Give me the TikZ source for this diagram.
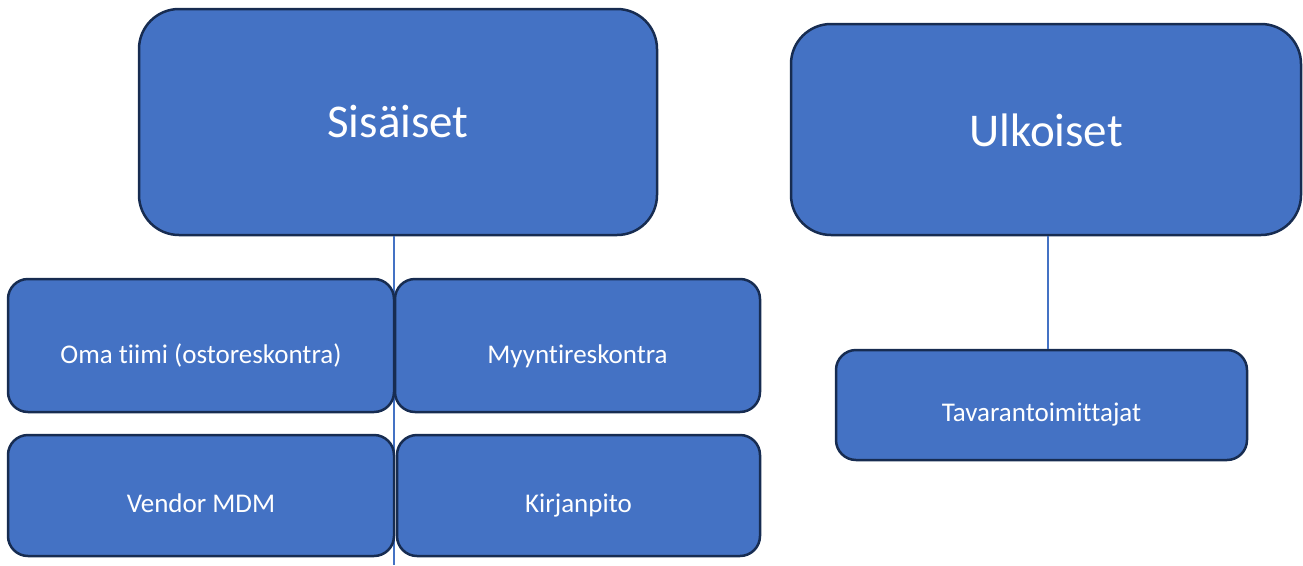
\documentclass[tikz,border=0pt]{standalone}
\usepackage{fontspec}
\setmainfont{Carlito}[Ligatures=NoCommon]
\usepackage{tikz}
\definecolor{boxblue}{HTML}{4472C4}
\definecolor{boxedge}{HTML}{172C51}
\tikzstyle{groupbox} = [draw=boxedge, fill=boxblue, line width=2.5pt,
    rectangle, rounded corners=40pt, inner sep=0pt, text=white,
    text height=31pt, text depth=0pt, font=\fontsize{47}{52}\selectfont]
\tikzstyle{memberbox} = [draw=boxedge, fill=boxblue, line width=2.5pt,
    rectangle, rounded corners=20pt, inner sep=0pt, text=white,
    text height=33pt, text depth=0pt, font=\fontsize{27}{30}\selectfont]
\tikzstyle{link} = [draw=boxblue, line width=2pt]

\begin{document}
\begin{tikzpicture}[x=1pt, y=-1pt]
    \useasboundingbox (0,0) rectangle (1303,565);
    % sisaiset group
    \node [groupbox, minimum width=518pt, minimum height=226pt] (sisaiset) at (398,122) {Sisäiset};
    \coordinate (sisend) at (394,565);
    \draw [link] (sisend |- sisaiset.south) -- (sisend);
    \node [memberbox, text height=36pt, minimum width=386pt, minimum height=133pt] (oma) at (201,345.5) {Oma tiimi (ostoreskontra)};
    \node [memberbox, text height=36pt, minimum width=365pt, minimum height=133pt] (myynti) at (577.5,345.5) {Myyntireskontra};
    \node [memberbox, minimum width=386pt, minimum height=121pt] (vendor) at (201,495.5) {Vendor MDM};
    \node [memberbox, minimum width=363pt, minimum height=121pt] (kirjanpito) at (578.5,495.5) {Kirjanpito};
    % ulkoiset group
    \node [groupbox, text height=34pt, minimum width=510pt, minimum height=211pt] (ulkoiset) at (1046,129.5) {Ulkoiset};
    \node [memberbox, minimum width=411pt, minimum height=110pt] (tavara) at (1041.5,405) {Tavarantoimittajat};
    \draw [link] ([xshift=2pt]ulkoiset.south) -- ([xshift=2pt]ulkoiset.south |- tavara.north);
\end{tikzpicture}
\end{document}
